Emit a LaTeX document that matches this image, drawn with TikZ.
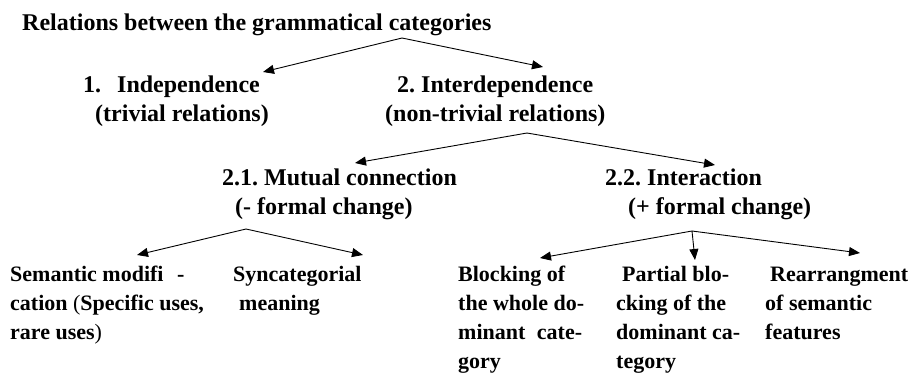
\documentclass[tikz,border=0pt]{standalone}
\usepackage{fontspec}
\setmainfont{Liberation Serif}
\usetikzlibrary{arrows.meta}

\tikzset{
	cat/.style={anchor=base west, inner sep=0pt, align=left,
		font=\fontsize{24bp}{29bp}\selectfont\bfseries\frenchspacing},
	leaf/.style={cat, font=\fontsize{22bp}{29bp}\selectfont\bfseries\frenchspacing},
	link/.style={-{Triangle[length=11bp, width=9bp]}, line width=0.9bp}
}

\begin{document}
\begin{tikzpicture}[x=1bp, y=1bp]
		\useasboundingbox (0,0) rectangle (914,-375);

		% nodes sit on the baseline of their last line
		\node[cat] (relations) at (22,-30) {Relations between the grammatical categories};

		\node[cat] (indep) at (83,-121) {1.\hspace{10bp} Independence\\\hspace*{12bp}(trivial relations)};
		\node[cat] (interdep) at (385,-121) {\hspace*{12bp}2. Interdependence\\(non-trivial relations)};

		\node[cat] (mutual) at (222,-214.5) {2.1. Mutual connection\\\hspace*{13bp}(- formal change)};
		\node[cat] (interact) at (605,-214.5) {2.2. Interaction\\\hspace*{23bp}(+ formal change)};

		\node[leaf] (semantic) at (10,-339) {Semantic modifi\hspace{8bp} -\\cation {\mdseries(}Specific uses,\\rare uses{\mdseries)}};
		\node[leaf] (syncat) at (233,-310) {Syncategorial\\\hspace*{6bp}meaning};

		\node[leaf] (blocking) at (458,-368) {Blocking of\\the whole do-\\minant\hspace{6bp} cate-\\gory};
		\node[leaf] (partial) at (616,-368) {\hspace*{6bp}Partial blo-\\cking of the\\dominant ca-\\tegory};
		\node[leaf] (rearrange) at (765,-339) {\hspace*{5bp}Rearrangment\\of semantic\\features};

		% branch points and arrow ends
		\coordinate (top) at (402,-38);
		\coordinate (mid) at (527,-133);
		\coordinate (left) at (246,-229);
		\coordinate (right) at (692,-231);

		\coordinate (indep end) at (263,-72);
		\coordinate (interdep end) at (543,-67);
		\coordinate (mutual end) at (355,-163);
		\coordinate (interact end) at (715,-165);
		\coordinate (semantic end) at (137,-255);
		\coordinate (syncat end) at (363,-255);
		\coordinate (blocking end) at (540,-258);
		\coordinate (partial end) at (695,-260);
		\coordinate (rearrange end) at (860,-253);

		\draw[link] (top) -- (indep end);
		\draw[link] (top) -- (interdep end);
		\draw[link] (mid) -- (mutual end);
		\draw[link] (mid) -- (interact end);
		\draw[link] (left) -- (semantic end);
		\draw[link] (left) -- (syncat end);
		\draw[link] (right) -- (blocking end);
		\draw[link] (right) -- (partial end);
		\draw[link] (right) -- (rearrange end);

	\end{tikzpicture}
\end{document}
